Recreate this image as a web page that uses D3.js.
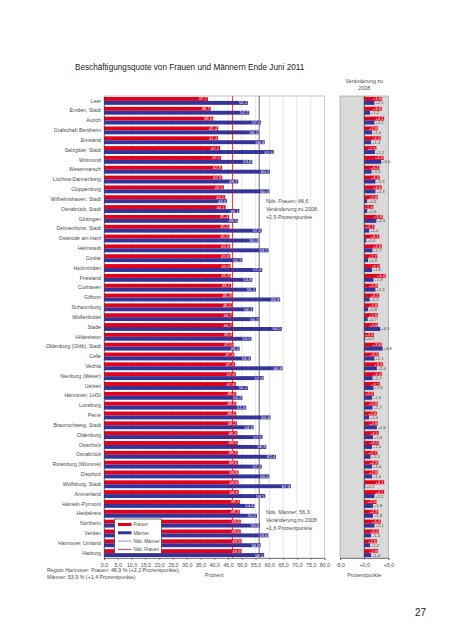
<!DOCTYPE html>
<html><head><meta charset="utf-8">
<script src="https://cdn.jsdelivr.net/npm/d3@7/dist/d3.min.js"></script>
<style>body{margin:0;background:#fff}svg{display:block;font-family:"Liberation Sans",Arial,sans-serif}</style>
</head><body><svg id="c" width="452" height="640"></svg>
<script>
const categories = ["Leer","Emden, Stadt","Aurich","Grafschaft Bentheim","Emsland","Salzgitter, Stadt","Wittmund","Wesermarsch","Lüchow-Dannenberg","Cloppenburg","Wilhelmshaven, Stadt","Osnabrück, Stadt","Göttingen","Delmenhorst, Stadt","Osterode am Harz","Helmstedt","Goslar","Holzminden","Friesland","Cuxhaven","Gifhorn","Schaumburg","Wolfenbüttel","Stade","Hildesheim","Oldenburg (Oldb), Stadt","Celle","Vechta","Nienburg (Weser)","Uelzen","Hannover, LHSt","Lüneburg","Peine","Braunschweig, Stadt","Oldenburg","Osterholz","Osnabrück","Rotenburg (Wümme)","Diepholz","Wolfsburg, Stadt","Ammerland","Hameln-Pyrmont","Heidekreis","Northeim","Verden","Hannover, Umland","Harburg"];
const women = [37.7,38.7,39.6,41.4,41.4,42.1,42.5,42.8,42.9,43.5,44.0,44.1,45.4,45.5,45.5,45.8,45.8,45.9,45.9,46.1,46.3,46.5,46.7,46.7,46.8,47.0,47.3,47.5,47.8,47.8,48.0,48.0,48.0,48.2,48.4,48.5,48.5,48.6,48.8,48.8,48.9,49.3,49.3,49.6,49.6,49.9,49.9];
const men = [52.2,52.7,57.0,56.1,58.3,61.6,53.8,60.2,48.7,60.0,44.6,49.1,48.5,57.2,56.0,59.7,50.2,57.4,53.8,55.1,63.9,54.1,56.3,64.5,53.5,49.2,53.3,64.8,57.9,52.2,50.2,51.6,60.4,54.3,57.5,58.9,62.4,57.2,60.0,67.8,58.5,54.6,55.5,56.6,59.6,56.8,58.1];
const womenChange = [3.6,3.6,4.1,2.8,3.4,2.5,4.0,3.1,3.2,3.6,2.8,1.9,3.8,2.1,3.1,3.6,2.7,3.2,4.4,2.8,3.1,2.8,2.8,2.8,2.0,3.6,3.0,3.9,3.6,3.2,2.0,2.8,2.6,2.8,3.0,3.0,2.7,2.9,2.8,4.1,4.1,2.5,2.9,3.4,3.0,2.6,2.8];
const menChange = [2.1,1.2,2.1,1.6,1.4,2.2,3.5,1.5,2.3,2.3,0.6,0.6,2.5,1.0,0.4,1.7,0.8,1.6,1.9,2.3,1.1,0.8,0.7,3.3,0.2,3.8,2.1,2.6,1.7,1.9,1.6,1.7,1.0,2.6,1.8,1.6,1.3,1.6,1.6,0.2,2.1,1.8,1.8,2.1,1.4,1.2,1.4];
const xTicks = [0,5,10,15,20,25,30,35,40,45,50,55,60,65,70,75,80];
const changeTicks = [-5,0,5];
const ndsWomen = 46.6, ndsMen = 56.3;

const RED = "#e3001b", BLUE = "#333399", TXT = "#4a4a4a";
const fmt = v => v.toFixed(1).replace(".", ",");
const fmtS = v => (v >= 0 ? "+" : "") + v.toFixed(1).replace(".", ",");

const svg = d3.select("#c");
const x = d3.scaleLinear().domain([0, 80]).range([104, 324.5]);
const y = d3.scaleBand().domain(categories).range([96, 558]).paddingInner(0.2).paddingOuter(0.1);
const xr = d3.scaleLinear().domain([-5, 5]).range([340, 388.5]);
const yTop = 96, yBot = 558;
const bh = y.bandwidth() / 2;
const rows = categories.map((c, i) => ({c, w: women[i], m: men[i], wc: womenChange[i], mc: menChange[i]}));

svg.append("text").attr("x", 75).attr("y", 70).attr("font-size", 8.2).attr("fill", "#222").text("Beschäftigungsquote von Frauen und Männern Ende Juni 2011");

svg.append("rect").attr("x", x(0)).attr("y", yTop).attr("width", x(80) - x(0)).attr("height", yBot - yTop).attr("fill", "#fff").attr("stroke", "#a0a0a0").attr("stroke-width", 0.6);
svg.append("g").selectAll("line").data(xTicks.slice(1)).join("line")
  .attr("x1", d => x(d)).attr("x2", d => x(d)).attr("y1", yTop).attr("y2", yBot)
  .attr("stroke", "#d4d4d4").attr("stroke-width", 0.6);

const g = svg.append("g");
g.selectAll(".bw").data(rows).join("rect").attr("x", x(0)).attr("y", d => y(d.c)).attr("width", d => x(d.w) - x(0)).attr("height", bh).attr("fill", RED);
g.selectAll(".bm").data(rows).join("rect").attr("x", x(0)).attr("y", d => y(d.c) + bh).attr("width", d => x(d.m) - x(0)).attr("height", bh).attr("fill", BLUE);

svg.append("line").attr("x1", x(ndsWomen)).attr("x2", x(ndsWomen)).attr("y1", yTop).attr("y2", yBot).attr("stroke", RED).attr("stroke-width", 0.8);
svg.append("line").attr("x1", x(ndsMen)).attr("x2", x(ndsMen)).attr("y1", yTop).attr("y2", yBot).attr("stroke", "#3a3a6e").attr("stroke-width", 0.8);

const g2 = svg.append("g");
g2.selectAll(".lw").data(rows).join("text").attr("x", d => x(d.w) - 0.8).attr("y", d => y(d.c) + bh / 2 + 1.5).attr("text-anchor", "end").attr("font-size", 4.3).attr("fill", "#fff").text(d => fmt(d.w));
const g3 = svg.append("g");
g3.selectAll(".lm").data(rows).join("text").attr("x", d => x(d.m) - 0.8).attr("y", d => y(d.c) + bh * 1.5 + 1.5).attr("text-anchor", "end").attr("font-size", 4.3).attr("fill", "#fff").text(d => fmt(d.m));

const ax = svg.append("g").attr("transform", `translate(0,${yBot})`).call(d3.axisBottom(x).tickValues(xTicks).tickFormat(fmt).tickSize(2).tickPadding(3));
ax.select(".domain").attr("stroke", "#444").attr("stroke-width", 0.6);
ax.selectAll(".tick line").attr("stroke", "#444").attr("stroke-width", 0.5);
ax.selectAll("text").attr("font-size", 5.3).attr("fill", TXT).attr("font-family", "Liberation Sans, Arial, sans-serif");
const ay = svg.append("g").attr("transform", `translate(${x(0)},0)`).call(d3.axisLeft(y).tickSize(0).tickPadding(3));
ay.select(".domain").attr("stroke", "#444").attr("stroke-width", 0.6);
ay.selectAll("text").attr("font-size", 5.2).attr("fill", TXT).attr("font-family", "Liberation Sans, Arial, sans-serif");
svg.append("text").attr("x", (x(0) + x(80)) / 2).attr("y", 577).attr("text-anchor", "middle").attr("font-size", 5.3).attr("fill", TXT).text("Prozent");

const ann = (lines, yy) => lines.forEach((t, i) => svg.append("text").attr("x", 266).attr("y", yy + i * 7.8).attr("font-size", 5.3).attr("fill", TXT).text(t));
ann(["Nds. Frauen: 46,6", "Veränderung zu 2008:", "+2,9 Prozentpunkte"], 203);
ann(["Nds. Männer: 56,3", "Veränderung zu 2008:", "+1,6 Prozentpunkte"], 514);

const lg = svg.append("g");
lg.append("rect").attr("x", 114.5).attr("y", 519).attr("width", 47).attr("height", 34.5).attr("fill", "#fff").attr("stroke", "#333").attr("stroke-width", 0.7);
const leg = [["Frauen", RED, 3], ["Männer", BLUE, 3], ["Nds. Männer", "#7777aa", 0.8], ["Nds. Frauen", RED, 0.8]];
leg.forEach((l, i) => {
  const yy = 524.5 + i * 8.3;
  lg.append("line").attr("x1", 118).attr("x2", 131.5).attr("y1", yy).attr("y2", yy).attr("stroke", l[1]).attr("stroke-width", l[2]);
  lg.append("text").attr("x", 133.5).attr("y", yy + 1.8).attr("font-size", 4.6).attr("fill", TXT).text(l[0]);
});

svg.append("rect").attr("x", xr(-5)).attr("y", yTop).attr("width", xr(5) - xr(-5)).attr("height", yBot - yTop).attr("fill", "#d9d9d9").attr("stroke", "#909090").attr("stroke-width", 0.6);
const gr = svg.append("g");
gr.selectAll(".cw").data(rows).join("rect").attr("x", d => Math.min(xr(0), xr(d.wc))).attr("y", d => y(d.c)).attr("width", d => Math.abs(xr(d.wc) - xr(0))).attr("height", bh).attr("fill", RED);
const gr2 = svg.append("g");
gr2.selectAll(".cm").data(rows).join("rect").attr("x", d => Math.min(xr(0), xr(d.mc))).attr("y", d => y(d.c) + bh).attr("width", d => Math.abs(xr(d.mc) - xr(0))).attr("height", bh).attr("fill", BLUE);
const gr3 = svg.append("g");
gr3.selectAll(".tcw").data(rows).join("text").attr("x", d => xr(d.wc) - 0.6).attr("y", d => y(d.c) + bh / 2 + 1.5).attr("text-anchor", "end").attr("font-size", 4.2).attr("fill", "#fff").text(d => fmtS(d.wc));
const gr4 = svg.append("g");
gr4.selectAll(".tcm").data(rows).join("text").attr("x", d => xr(d.mc) + 0.8).attr("y", d => y(d.c) + bh * 1.5 + 1.5).attr("font-size", 4.2).attr("fill", "#444").text(d => fmtS(d.mc));
svg.append("line").attr("x1", xr(0)).attr("x2", xr(0)).attr("y1", yTop).attr("y2", yBot).attr("stroke", "#333").attr("stroke-width", 0.8);
const axr = svg.append("g").attr("transform", `translate(0,${yBot})`).call(d3.axisBottom(xr).tickValues(changeTicks).tickFormat(fmtS).tickSize(2).tickPadding(3));
axr.select(".domain").attr("stroke", "#444").attr("stroke-width", 0.6);
axr.selectAll(".tick line").attr("stroke", "#444").attr("stroke-width", 0.5);
axr.selectAll("text").attr("font-size", 5.3).attr("fill", TXT).attr("font-family", "Liberation Sans, Arial, sans-serif");
svg.append("text").attr("x", xr(0)).attr("y", 577).attr("text-anchor", "middle").attr("font-size", 5.3).attr("fill", TXT).text("Prozentpunkte");
svg.append("text").attr("x", xr(0)).attr("y", 83).attr("text-anchor", "middle").attr("font-size", 5.3).attr("fill", TXT).text("Veränderung zu");
svg.append("text").attr("x", xr(0)).attr("y", 90).attr("text-anchor", "middle").attr("font-size", 5.3).attr("fill", TXT).text("2008");

svg.append("text").attr("x", 47).attr("y", 572).attr("font-size", 5.3).attr("fill", TXT).text("Region Hannover: Frauen: 48,9 % (+2,2 Prozentpunkte),");
svg.append("text").attr("x", 47).attr("y", 579).attr("font-size", 5.3).attr("fill", TXT).text("Männer: 53,9 % (+1,4 Prozentpunkte)");
svg.append("text").attr("x", 415).attr("y", 616).attr("font-size", 10).attr("fill", "#222").text("27");
</script></body></html>
